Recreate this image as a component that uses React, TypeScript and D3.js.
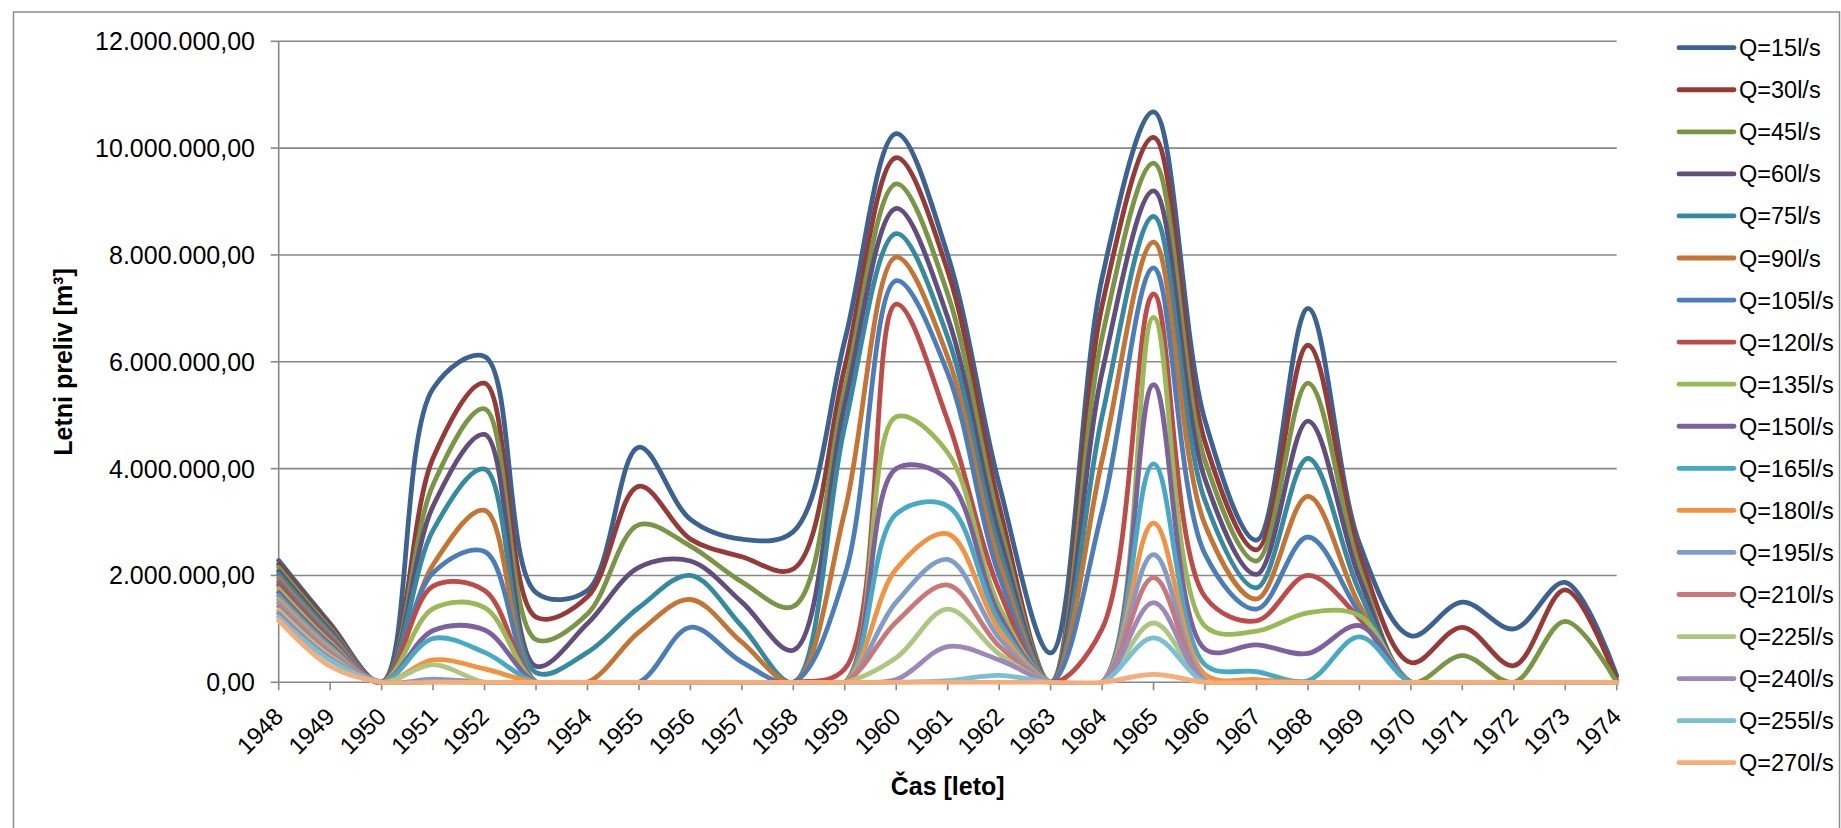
import React from "react";
import * as d3 from "d3";

const YEARS = [1948,1949,1950,1951,1952,1953,1954,1955,1956,1957,1958,1959,1960,1961,1962,1963,1964,1965,1966,1967,1968,1969,1970,1971,1972,1973,1974];

// values in millions of m3, one per year
const q15 = [2.28,1.10,0,5.5,6.1,1.68,1.72,4.4,3.05,2.68,2.82,6.4,10.27,8.0,3.7,0.55,7.57,10.68,4.9,2.66,7.0,2.6,0.87,1.5,1.0,1.87,0.12];
const q30 = [2.21,1.06,0,4.2,5.6,1.22,1.6,3.67,2.68,2.35,2.12,5.9,9.82,7.7,3.3,0,7.05,10.2,4.5,2.48,6.31,2.4,0.37,1.03,0.31,1.73,0.03];
const q45 = [2.15,1.01,0,3.7,5.12,0.8,1.28,2.95,2.55,1.88,1.42,5.5,9.33,7.27,3.0,0,6.46,9.72,4.15,2.27,5.6,2.15,0,0.5,0,1.14,0];
const q60 = [2.08,0.97,0,3.3,4.64,0.3,1.1,2.15,2.27,1.5,0.6,5.2,8.87,6.83,2.75,0,5.8,9.2,3.8,2.02,4.89,1.95,0,0,0,0,0];
const q75 = [2.02,0.93,0,2.85,3.99,0.18,0.56,1.4,2.0,1.05,0,4.8,8.4,6.46,2.5,0,4.98,8.72,3.4,1.77,4.19,1.7,0,0,0,0,0];
const q90 = [1.95,0.88,0,2.2,3.22,0,0,0.94,1.55,0.75,0,3.2,7.96,6.09,2.25,0,4.16,8.24,2.95,1.56,3.48,1.45,0,0,0,0,0];
const q105 = [1.88,0.84,0,2.05,2.45,0,0,0,1.03,0.38,0,2.0,7.52,5.79,2.0,0,3.2,7.76,2.4,1.37,2.72,1.3,0,0,0,0,0];
const q120 = [1.82,0.80,0,1.8,1.72,0,0,0,0,0,0,0.25,7.08,4.9,1.72,0,1.0,7.27,1.6,1.15,2.0,1.2,0,0,0,0,0];
const q135 = [1.75,0.75,0,1.38,1.4,0,0,0,0,0,0,0,4.97,4.3,1.42,0,0,6.83,1.05,0.96,1.3,1.25,0,0,0,0,0];
const q150 = [1.68,0.71,0,0.97,0.98,0,0,0,0,0,0,0,4.0,3.8,1.27,0,0,5.57,0.62,0.7,0.54,1.06,0,0,0,0,0];
const q165 = [1.62,0.67,0,0.82,0.56,0,0,0,0,0,0,0,3.15,3.3,1.13,0,0,4.09,0.33,0.2,0.03,0.85,0,0,0,0,0];
const q180 = [1.55,0.62,0,0.42,0.25,0,0,0,0,0,0,0,2.12,2.78,0.98,0,0,2.98,0.15,0.05,0,0,0,0,0,0,0];
const q195 = [1.49,0.58,0,0.06,0,0,0,0,0,0,0,0,1.5,2.3,0.83,0,0,2.39,0.04,0,0,0,0,0,0,0,0];
const q210 = [1.42,0.54,0,0.03,0,0,0,0,0,0,0,0,1.13,1.82,0.68,0,0,1.96,0,0,0,0,0,0,0,0,0];
const q225 = [1.35,0.49,0,0.33,0,0,0,0,0,0,0,0,0.46,1.37,0.53,0,0,1.11,0,0,0,0,0,0,0,0,0];
const q240 = [1.29,0.45,0,0.02,0,0,0,0,0,0,0,0,0.05,0.67,0.42,0,0,1.49,0,0,0,0,0,0,0,0,0];
const q255 = [1.22,0.41,0,0.01,0,0,0,0,0,0,0,0,0,0.03,0.13,0,0,0.83,0,0,0,0,0,0,0,0,0];
const q270 = [1.16,0.30,0,0,0,0,0,0,0,0,0,0,0,0,0,0,0,0.15,0,0,0,0,0,0,0,0,0];

const SERIES_NAMES = ["Q=15l/s","Q=30l/s","Q=45l/s","Q=60l/s","Q=75l/s","Q=90l/s","Q=105l/s","Q=120l/s","Q=135l/s","Q=150l/s","Q=165l/s","Q=180l/s","Q=195l/s","Q=210l/s","Q=225l/s","Q=240l/s","Q=255l/s","Q=270l/s"];
const SERIES_VALUES = [q15,q30,q45,q60,q75,q90,q105,q120,q135,q150,q165,q180,q195,q210,q225,q240,q255,q270];
const COLORS = ["#3A6292","#973A37","#789643","#634D7E","#348AA1","#C57432","#4A7EBB","#BE4B48","#98B954","#7D60A0","#46AAC5","#F39240","#7E9DCB","#CB7775","#ADC781","#9C88B9","#7ABFD4","#F8AC77"];
const Y_TICKS = [0, 2e6, 4e6, 6e6, 8e6, 10e6, 12e6];

const W = 1841, H = 828;
const PL = 278.7, PR = 1616.7, PT = 41.3, PB = 682.3;
const FONT = "'Liberation Sans', Arial, sans-serif";

const locale = d3.formatLocale({ decimal: ",", thousands: ".", grouping: [3], currency: ["", ""] });
const fmt = locale.format(",.2f");

export default function App() {
  const x = d3.scalePoint<number>().domain(YEARS).range([PL, PR]);
  const y = d3.scaleLinear().domain([0, 12e6]).range([PB, PT]);
  const line = d3.line<number>()
    .x((_, i) => x(YEARS[i]) as number)
    .y((v) => y(v * 1e6))
    .curve(d3.curveCatmullRom.alpha(0.5));

  return (
    <svg width={W} height={H} style={{ position: "absolute", left: 0, top: 0, background: "#fff" }} fontFamily={FONT}>
      <defs>
        <clipPath id="plotClip">
          <rect x={PL - 5} y={0} width={PR - PL + 10} height={PB + 2.5} />
        </clipPath>
      </defs>
      <rect x={13.5} y={12} width={1826} height={840} fill="#fff" stroke="#8C8C8C" strokeWidth={1.5} />
      {Y_TICKS.map((t) => (
        <g key={t}>
          {t > 0 && <line x1={PL} x2={PR} y1={y(t)} y2={y(t)} stroke="#878787" strokeWidth={1.6} />}
          <line x1={PL - 8} x2={PL} y1={y(t)} y2={y(t)} stroke="#878787" strokeWidth={1.6} />
          <text x={255} y={y(t) + 9} textAnchor="end" fontSize={25} fill="#000">{fmt(t)}</text>
        </g>
      ))}
      <line x1={PL} x2={PL} y1={PT} y2={PB} stroke="#878787" strokeWidth={1.6} />
      <line x1={PL} x2={PR} y1={PB} y2={PB} stroke="#878787" strokeWidth={1.6} />
      {YEARS.map((yr) => (
        <g key={yr}>
          <line x1={x(yr)} x2={x(yr)} y1={PB} y2={PB + 8} stroke="#878787" strokeWidth={1.6} />
          <text transform={`translate(${(x(yr) as number) + 6},${718}) rotate(-45)`} textAnchor="end" fontSize={24} fill="#000">{yr}</text>
        </g>
      ))}
      <g clipPath="url(#plotClip)">
        {SERIES_VALUES.map((vals, i) => (
          <path key={i} d={line(vals) || ""} fill="none" stroke={COLORS[i]} strokeWidth={4.8} strokeLinejoin="round" strokeLinecap="round" />
        ))}
      </g>
      <text x={(PL + PR) / 2} y={795} textAnchor="middle" fontSize={25} fontWeight="bold" fill="#000">Čas [leto]</text>
      <text transform={`translate(71.5,362) rotate(-90)`} textAnchor="middle" fontSize={25} fontWeight="bold" fill="#000">Letni preliv [m³]</text>
      {SERIES_NAMES.map((n, i) => {
        const ly = 47.7 + i * 42.06;
        return (
          <g key={n}>
            <line x1={1679} x2={1734} y1={ly} y2={ly} stroke={COLORS[i]} strokeWidth={4.8} strokeLinecap="round" />
            <text x={1739} y={ly + 8.5} fontSize={23.5} fill="#000">{n}</text>
          </g>
        );
      })}
    </svg>
  );
}
